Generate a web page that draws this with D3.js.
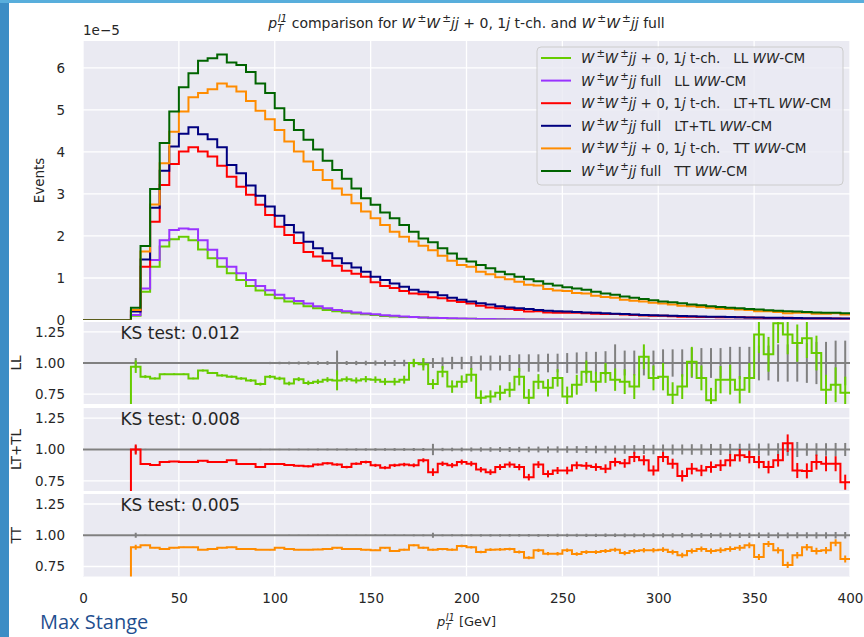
<!DOCTYPE html>
<html>
<head>
<meta charset="utf-8">
<script src="https://cdn.jsdelivr.net/npm/d3@7"></script>
<style>
body{margin:0;background:#fff;}
text{font-family:"DejaVu Sans",sans-serif;fill:#262626;}
</style>
</head>
<body>
<div id="chart"></div>
<script>
// bins of 5 GeV from 0 to 400, values in units of 1e-5
var binW = 5;
var xTicks = [0,50,100,150,200,250,300,350,400];
var yTicks = [0,1,2,3,4,5,6];
var rTicks = [0.75,1.00,1.25];

var llTch = [0,0,0,0,0,0.10,0.67,1.27,1.75,1.92,
  1.98,1.90,1.68,1.47,1.27,1.11,0.95,0.81,0.70,0.60,
  0.52,0.44,0.39,0.33,0.28,0.24,0.21,0.18,0.155,0.135,
  0.117,0.098,0.085,0.074,0.073,0.061,0.044,0.043,0.032,0.029,
  0.027,0.019,0.017,0.016,0.014,0.014,0.010,0.010,0.008,0.008,
  0.006,0.006,0.006,0.005,0.0047,0.0039,0.0034,0.0028,0.0033,0.0025,
  0.0022,0.0016,0.0016,0.0018,0.0014,0.001,0.0011,0.001,0.0009,0.0009,
  0.0011,0.0009,0.0009,0.0009,0.0007,0.0007,0.0005,0.0004,0.0003,0.0003];
var llFull = [0,0,0,0,0,0.12,0.75,1.43,1.90,2.14,
  2.18,2.16,1.90,1.67,1.47,1.27,1.11,0.95,0.81,0.71,
  0.60,0.52,0.45,0.39,0.33,0.28,0.24,0.21,0.18,0.155,
  0.135,0.115,0.10,0.085,0.073,0.062,0.053,0.046,0.040,0.034,
  0.030,0.026,0.023,0.020,0.018,0.016,0.014,0.012,0.011,0.0095,
  0.0085,0.0075,0.0066,0.0058,0.0051,0.0045,0.004,0.0035,0.0031,0.0028,
  0.0025,0.0022,0.002,0.0018,0.0016,0.0014,0.0013,0.0012,0.0011,0.001,
  0.0009,0.0008,0.0007,0.0007,0.0006,0.0006,0.0005,0.0005,0.0004,0.0004];
var ltTch = [0,0,0,0,0,0.22,1.27,2.34,3.21,3.71,
  4.01,4.11,4.01,3.89,3.67,3.41,3.17,2.98,2.74,2.50,
  2.22,2.02,1.83,1.62,1.51,1.41,1.29,1.17,1.10,1.03,
  0.90,0.81,0.76,0.69,0.63,0.61,0.54,0.52,0.46,0.43,
  0.39,0.34,0.30,0.28,0.26,0.24,0.20,0.21,0.18,0.17,
  0.17,0.17,0.16,0.15,0.14,0.14,0.13,0.12,0.11,0.10,
  0.10,0.09,0.075,0.076,0.071,0.069,0.066,0.064,0.063,0.058,
  0.052,0.047,0.048,0.051,0.038,0.037,0.038,0.035,0.034,0.027];
var ltFull = [0,0,0,0,0,0.20,1.44,2.67,3.55,4.13,
  4.43,4.59,4.42,4.30,4.11,3.69,3.49,3.20,2.96,2.70,
  2.48,2.26,2.08,1.86,1.71,1.59,1.47,1.35,1.25,1.15,
  1.03,0.95,0.87,0.79,0.72,0.67,0.66,0.59,0.53,0.48,
  0.44,0.40,0.37,0.33,0.30,0.28,0.26,0.24,0.22,0.21,
  0.20,0.19,0.18,0.17,0.16,0.15,0.14,0.13,0.12,0.115,
  0.11,0.10,0.095,0.09,0.085,0.08,0.075,0.07,0.066,0.062,
  0.058,0.055,0.052,0.049,0.046,0.044,0.042,0.040,0.038,0.036];
var ttTch = [0,0,0,0,0,0.24,1.63,2.75,3.73,4.48,
  4.96,5.30,5.40,5.49,5.63,5.56,5.44,5.21,4.98,4.78,
  4.52,4.25,4.01,3.77,3.57,3.33,3.13,2.98,2.78,2.58,
  2.42,2.26,2.10,1.98,1.87,1.77,1.66,1.53,1.41,1.31,
  1.27,1.15,1.09,1.02,0.97,0.91,0.84,0.82,0.74,0.70,
  0.69,0.64,0.63,0.58,0.55,0.53,0.48,0.46,0.44,0.41,
  0.39,0.37,0.34,0.33,0.31,0.29,0.27,0.26,0.25,0.24,
  0.21,0.21,0.19,0.16,0.17,0.17,0.15,0.15,0.16,0.13];
var ttFull = [0,0,0,0,0,0.29,1.76,3.12,4.21,4.96,
  5.54,5.87,6.17,6.23,6.32,6.13,6.07,5.90,5.63,5.40,
  5.04,4.76,4.52,4.29,4.06,3.79,3.57,3.36,3.13,2.90,
  2.74,2.56,2.42,2.26,2.10,1.94,1.85,1.71,1.58,1.46,
  1.39,1.31,1.23,1.15,1.09,1.03,0.97,0.92,0.86,0.82,
  0.78,0.75,0.72,0.67,0.63,0.60,0.56,0.53,0.50,0.47,
  0.44,0.42,0.40,0.37,0.35,0.33,0.31,0.29,0.28,0.26,
  0.25,0.23,0.22,0.21,0.20,0.19,0.18,0.17,0.17,0.16];

// ratio t-ch / full per bin, with uncertainties
var llRatio = [0,0,0,0,0,0.97,0.89,0.876,0.91,0.91,
  0.91,0.876,0.94,0.92,0.90,0.89,0.876,0.86,0.83,0.89,
  0.876,0.835,0.87,0.84,0.85,0.866,0.86,0.87,0.86,0.87,
  0.866,0.85,0.85,0.866,1.00,0.99,0.83,0.93,0.81,0.85,
  0.905,0.72,0.73,0.76,0.785,0.89,0.72,0.85,0.80,0.88,
  0.73,0.825,0.93,0.85,0.92,0.866,0.85,0.81,1.05,0.88,
  0.89,0.745,0.81,1.01,0.88,0.70,0.866,0.866,0.785,0.88,
  1.23,1.07,1.32,1.23,1.16,1.20,1.08,0.785,0.825,0.76];
var llErr = [0,0,0,0,0,0.05,0.012,0.008,0.007,0.007,
  0.007,0.007,0.008,0.008,0.009,0.009,0.01,0.011,0.012,0.013,
  0.014,0.015,0.016,0.018,0.019,0.02,0.08,0.022,0.024,0.025,
  0.026,0.028,0.03,0.032,0.034,0.05,0.04,0.045,0.05,0.05,
  0.055,0.06,0.05,0.06,0.06,0.07,0.07,0.06,0.07,0.07,
  0.08,0.08,0.09,0.08,0.08,0.09,0.1,0.1,0.1,0.1,
  0.11,0.1,0.1,0.12,0.1,0.1,0.11,0.12,0.11,0.12,
  0.15,0.14,0.16,0.16,0.15,0.16,0.14,0.12,0.14,0.13];
var llRefErr = [0,0,0,0,0,0.04,0.008,0.006,0.005,0.005,
  0.005,0.005,0.006,0.006,0.006,0.007,0.007,0.008,0.008,0.009,
  0.01,0.011,0.012,0.013,0.014,0.015,0.1,0.016,0.017,0.018,
  0.02,0.022,0.024,0.026,0.028,0.035,0.04,0.045,0.05,0.05,
  0.055,0.06,0.06,0.06,0.065,0.07,0.07,0.07,0.075,0.075,
  0.08,0.085,0.09,0.09,0.095,0.15,0.1,0.1,0.1,0.1,
  0.11,0.11,0.11,0.12,0.12,0.12,0.12,0.13,0.13,0.13,
  0.14,0.14,0.15,0.15,0.15,0.16,0.17,0.17,0.18,0.18];

var ltRatio = [0,0,0,0,0,1.00,0.885,0.876,0.90,0.905,
  0.90,0.90,0.91,0.90,0.90,0.915,0.885,0.885,0.86,0.885,
  0.885,0.876,0.87,0.866,0.88,0.89,0.88,0.86,0.887,0.90,
  0.874,0.855,0.874,0.88,0.874,0.914,0.82,0.887,0.874,0.90,
  0.887,0.84,0.82,0.86,0.88,0.86,0.78,0.88,0.806,0.833,
  0.833,0.874,0.87,0.86,0.847,0.90,0.89,0.94,0.914,0.833,
  0.94,0.887,0.79,0.847,0.833,0.86,0.874,0.914,0.954,0.94,
  0.90,0.86,0.914,1.05,0.833,0.83,0.90,0.887,0.887,0.74];
var ltErr = [0,0,0,0,0,0.04,0.006,0.004,0.004,0.004,
  0.004,0.004,0.004,0.004,0.004,0.005,0.005,0.005,0.006,0.006,
  0.006,0.007,0.007,0.008,0.008,0.009,0.009,0.01,0.01,0.011,
  0.012,0.012,0.013,0.014,0.015,0.016,0.03,0.018,0.019,0.02,
  0.02,0.021,0.022,0.023,0.024,0.025,0.026,0.027,0.028,0.028,
  0.03,0.03,0.03,0.03,0.035,0.035,0.035,0.04,0.04,0.04,
  0.04,0.04,0.045,0.045,0.045,0.045,0.045,0.05,0.05,0.05,
  0.05,0.05,0.05,0.07,0.06,0.06,0.06,0.06,0.06,0.06];
var ltRefErr = [0,0,0,0,0,0.03,0.005,0.003,0.003,0.003,
  0.003,0.003,0.003,0.003,0.004,0.004,0.004,0.004,0.005,0.005,
  0.005,0.006,0.006,0.006,0.007,0.007,0.008,0.008,0.009,0.009,
  0.01,0.01,0.011,0.011,0.012,0.012,0.045,0.013,0.014,0.015,
  0.016,0.017,0.018,0.019,0.02,0.021,0.022,0.023,0.024,0.025,
  0.026,0.027,0.028,0.03,0.03,0.032,0.034,0.035,0.036,0.038,
  0.04,0.04,0.04,0.042,0.042,0.044,0.044,0.045,0.046,0.047,
  0.048,0.048,0.05,0.05,0.06,0.05,0.05,0.05,0.052,0.052];

var ttRatio = [0,0,0,0,0,0.905,0.92,0.90,0.89,0.90,
  0.905,0.905,0.885,0.89,0.90,0.905,0.89,0.89,0.885,0.885,
  0.90,0.89,0.885,0.885,0.887,0.89,0.90,0.89,0.89,0.885,
  0.88,0.90,0.874,0.885,0.92,0.90,0.885,0.89,0.885,0.915,
  0.905,0.866,0.885,0.887,0.89,0.866,0.82,0.88,0.853,0.853,
  0.88,0.85,0.866,0.866,0.874,0.885,0.858,0.874,0.88,0.88,
  0.885,0.866,0.84,0.874,0.89,0.874,0.88,0.89,0.90,0.92,
  0.827,0.93,0.88,0.763,0.84,0.905,0.874,0.88,0.94,0.81];
var ttErr = [0,0,0,0,0,0.02,0.004,0.003,0.003,0.003,
  0.003,0.003,0.003,0.003,0.003,0.003,0.003,0.003,0.003,0.004,
  0.004,0.004,0.004,0.004,0.005,0.005,0.005,0.005,0.006,0.006,
  0.006,0.007,0.007,0.007,0.008,0.008,0.008,0.009,0.009,0.01,
  0.01,0.01,0.011,0.011,0.011,0.012,0.012,0.013,0.013,0.014,
  0.014,0.014,0.015,0.015,0.016,0.016,0.017,0.017,0.018,0.018,
  0.019,0.019,0.02,0.02,0.021,0.021,0.022,0.022,0.023,0.023,
  0.024,0.024,0.025,0.025,0.026,0.026,0.027,0.027,0.028,0.028];
var ttRefErr = [0,0,0,0,0,0.02,0.004,0.003,0.003,0.003,
  0.003,0.003,0.003,0.003,0.003,0.003,0.003,0.003,0.003,0.003,
  0.003,0.004,0.004,0.004,0.004,0.004,0.005,0.005,0.005,0.005,
  0.006,0.006,0.006,0.006,0.007,0.007,0.02,0.007,0.008,0.008,
  0.008,0.009,0.009,0.009,0.01,0.01,0.01,0.011,0.011,0.012,
  0.012,0.012,0.013,0.013,0.014,0.014,0.015,0.015,0.016,0.016,
  0.017,0.017,0.018,0.018,0.019,0.019,0.02,0.02,0.021,0.021,
  0.022,0.022,0.023,0.023,0.024,0.024,0.025,0.025,0.026,0.026];

var ksValues = ["0.012","0.008","0.005"];
var ratioNames = ["LL","LT+TL","TT"];

var colors = {llTch:"#66cc00", llFull:"#9933ff", ltTch:"#ff0000", ltFull:"#000080", ttTch:"#ff8c00", ttFull:"#006400"};

var W = 864, H = 637;
var svg = d3.select("#chart").append("svg").attr("width",W).attr("height",H);

// slide frame
svg.append("rect").attr("x",0).attr("y",0).attr("width",9).attr("height",H).attr("fill","#3b8dc5");
svg.append("rect").attr("x",0).attr("y",0).attr("width",W).attr("height",3).attr("fill","#58aedc");

var x = d3.scaleLinear().domain([0,400]).range([83,850]);
var yMain = d3.scaleLinear().domain([0,6.64]).range([320,41]);

var panels = [
  {name:ratioNames[0], top:322, bottom:404, ratio:llRatio, err:llErr, refErr:llRefErr, color:colors.llTch, ks:ksValues[0]},
  {name:ratioNames[1], top:408, bottom:491, ratio:ltRatio, err:ltErr, refErr:ltRefErr, color:colors.ltTch, ks:ksValues[1]},
  {name:ratioNames[2], top:494, bottom:576.5, ratio:ttRatio, err:ttErr, refErr:ttRefErr, color:colors.ttTch, ks:ksValues[2]}
];
panels.forEach(function(p){
  var c = (p.top+p.bottom)/2, half = (p.bottom-p.top)/2;
  p.y = d3.scaleLinear().domain([1-0.33,1+0.33]).range([c+half,c-half]);
});

function stepD(vals, ys){
  var d = "";
  vals.forEach(function(v,i){
    var x0 = x(i*binW), x1 = x((i+1)*binW), yy = ys(v);
    d += (i===0 ? "M" : "L") + x0 + "," + yy + "L" + x1 + "," + yy;
  });
  return d;
}

var defs = svg.append("defs");
function clip(id, y0, y1){
  defs.append("clipPath").attr("id",id).append("rect")
    .attr("x",x(0)).attr("y",y0).attr("width",x(400)-x(0)).attr("height",y1-y0);
}

// main panel
svg.append("rect").attr("x",x(0)).attr("y",41).attr("width",x(400)-x(0)).attr("height",278.5).attr("fill","#eaeaf2");
clip("cMain",41,319.5);
var gMain = svg.append("g").attr("clip-path","url(#cMain)");
yTicks.forEach(function(t){
  gMain.append("line").attr("x1",x(0)).attr("x2",x(400)).attr("y1",yMain(t)).attr("y2",yMain(t))
    .attr("stroke","#fff").attr("stroke-width",1.3);
});
xTicks.forEach(function(t){
  gMain.append("line").attr("x1",x(t)).attr("x2",x(t)).attr("y1",41).attr("y2",320)
    .attr("stroke","#fff").attr("stroke-width",1.3);
});

var pm = [["W","i"],["±","sup"],["W","i"],["±","sup"],["jj","i"]];
var series = [
  {vals:llTch, color:colors.llTch, label:pm.concat([[" + 0, 1",""],["j","i"],[" t-ch.\u00a0\u00a0\u00a0LL ",""],["WW","i"],["-CM",""]])},
  {vals:llFull, color:colors.llFull, label:pm.concat([[" full\u00a0\u00a0\u00a0LL ",""],["WW","i"],["-CM",""]])},
  {vals:ltTch, color:colors.ltTch, label:pm.concat([[" + 0, 1",""],["j","i"],[" t-ch.\u00a0\u00a0\u00a0LT+TL ",""],["WW","i"],["-CM",""]])},
  {vals:ltFull, color:colors.ltFull, label:pm.concat([[" full\u00a0\u00a0\u00a0LT+TL ",""],["WW","i"],["-CM",""]])},
  {vals:ttTch, color:colors.ttTch, label:pm.concat([[" + 0, 1",""],["j","i"],[" t-ch.\u00a0\u00a0\u00a0TT ",""],["WW","i"],["-CM",""]])},
  {vals:ttFull, color:colors.ttFull, label:pm.concat([[" full\u00a0\u00a0\u00a0TT ",""],["WW","i"],["-CM",""]])}
];
series.forEach(function(s){
  gMain.append("path").attr("d",stepD(s.vals,yMain)).attr("fill","none")
    .attr("stroke",s.color).attr("stroke-width",2).attr("stroke-linejoin","miter");
});

// rich text helper (italic / super / subscript parts)
function rich(textSel, parts, size){
  var shift = 0;
  parts.forEach(function(p){
    var want = 0, fs = size, dx = p[2] || 0;
    if (p[1]==="sup" || p[1]==="supi"){ want = -size*0.42; fs = size*0.75; }
    if (p[1]==="sup"){ dx += size*0.15; }
    if (p[1]==="subi"){ want = size*0.28; fs = size*0.7; }
    var t = textSel.append("tspan").text(p[0]).attr("font-size",fs).attr("dy",want-shift);
    if (dx) t.attr("dx",dx);
    if (p[1]==="i" || p[1]==="supi" || p[1]==="subi") t.style("font-style","italic");
    shift = want;
  });
}

// legend
var lg = svg.append("g");
lg.append("rect").attr("x",537).attr("y",47).attr("width",306).attr("height",138).attr("rx",4)
  .attr("fill","#eaeaf2").attr("fill-opacity",0.8).attr("stroke","#cccccc");
series.forEach(function(s,i){
  var yy = 58 + i*22.6;
  lg.append("line").attr("x1",541).attr("x2",571).attr("y1",yy).attr("y2",yy)
    .attr("stroke",s.color).attr("stroke-width",2);
  var t = lg.append("text").attr("x",581).attr("y",yy+5).attr("font-size",13.5);
  rich(t, s.label, 13.5);
});

// main y axis
var axY = svg.append("g").attr("transform","translate("+x(0)+",0)")
  .call(d3.axisLeft(yMain).tickValues(yTicks).tickSize(0).tickPadding(18).tickFormat(d3.format("d")));
axY.select(".domain").remove();
axY.selectAll("text").attr("font-size",13.5).attr("font-family","DejaVu Sans").attr("fill","#262626");

svg.append("text").attr("x",x(0)).attr("y",35).attr("font-size",13.5).text("1e\u22125");
svg.append("text").attr("transform","translate(44,180.5) rotate(-90)").attr("text-anchor","middle")
  .attr("font-size",13.5).text("Events");

// title
var title = svg.append("text").attr("x",(x(0)+x(400))/2).attr("y",28).attr("text-anchor","middle").attr("font-size",14);
rich(title, [["p","i"],["T","subi"],["l1","supi",-5.5],[" comparison for ",""]].concat(pm,
  [[" + 0, 1",""],["j","i"],[" t-ch. and ",""]], pm, [[" full",""]]), 14);

// ratio panels
panels.forEach(function(p,k){
  svg.append("rect").attr("x",x(0)).attr("y",p.top).attr("width",x(400)-x(0)).attr("height",p.bottom-p.top).attr("fill","#eaeaf2");
  clip("cR"+k, p.top, p.bottom);
  var g = svg.append("g").attr("clip-path","url(#cR"+k+")");
  rTicks.forEach(function(t){
    g.append("line").attr("x1",x(0)).attr("x2",x(400)).attr("y1",p.y(t)).attr("y2",p.y(t))
      .attr("stroke","#fff").attr("stroke-width",1.3);
  });
  xTicks.forEach(function(t){
    g.append("line").attr("x1",x(t)).attr("x2",x(t)).attr("y1",p.top).attr("y2",p.bottom)
      .attr("stroke","#fff").attr("stroke-width",1.3);
  });
  // reference (full / full)
  g.append("line").attr("x1",x(0)).attr("x2",x(400)).attr("y1",p.y(1)).attr("y2",p.y(1))
    .attr("stroke","#808080").attr("stroke-width",2);
  p.refErr.forEach(function(e,i){
    if (e<=0) return;
    var xc = x(i*binW+binW/2);
    g.append("line").attr("x1",xc).attr("x2",xc).attr("y1",p.y(1-e)).attr("y2",p.y(1+e))
      .attr("stroke","#808080").attr("stroke-width",2);
  });
  g.append("path").attr("d",stepD(p.ratio,p.y)).attr("fill","none").attr("stroke",p.color).attr("stroke-width",2);
  p.err.forEach(function(e,i){
    if (e<=0) return;
    var xc = x(i*binW+binW/2), r = p.ratio[i];
    g.append("line").attr("x1",xc).attr("x2",xc).attr("y1",p.y(r-e)).attr("y2",p.y(r+e))
      .attr("stroke",p.color).attr("stroke-width",2);
  });
  var ax = svg.append("g").attr("transform","translate("+x(0)+",0)")
    .call(d3.axisLeft(p.y).tickValues(rTicks).tickSize(0).tickPadding(18).tickFormat(d3.format(".2f")));
  ax.select(".domain").remove();
  ax.selectAll("text").attr("font-size",13.5).attr("font-family","DejaVu Sans").attr("fill","#262626");
  svg.append("text").attr("transform","translate(21,"+p.y(1)+") rotate(-90)").attr("text-anchor","middle")
    .attr("font-size",13.5).text(p.name);
  svg.append("text").attr("x",x(19.5)).attr("y",p.y(1.195)).attr("font-size",17).text("KS test: "+p.ks);
});

// x axis
var axX = svg.append("g").attr("transform","translate(0,577)")
  .call(d3.axisBottom(x).tickValues(xTicks).tickSize(0).tickPadding(16).tickFormat(d3.format("d")));
axX.select(".domain").remove();
axX.selectAll("text").attr("font-size",13.5).attr("font-family","DejaVu Sans").attr("fill","#262626");

var xl = svg.append("text").attr("x",(x(0)+x(400))/2).attr("y",626).attr("text-anchor","middle").attr("font-size",13);
rich(xl, [["p","i"],["T","subi"],["l1","supi",-5],[" [GeV]",""]], 13);

svg.append("text").attr("x",40).attr("y",629).attr("font-size",20)
  .style("font-family","'Open Sans',sans-serif").style("fill","#1f4f8f").text("Max Stange");
</script>
</body>
</html>
